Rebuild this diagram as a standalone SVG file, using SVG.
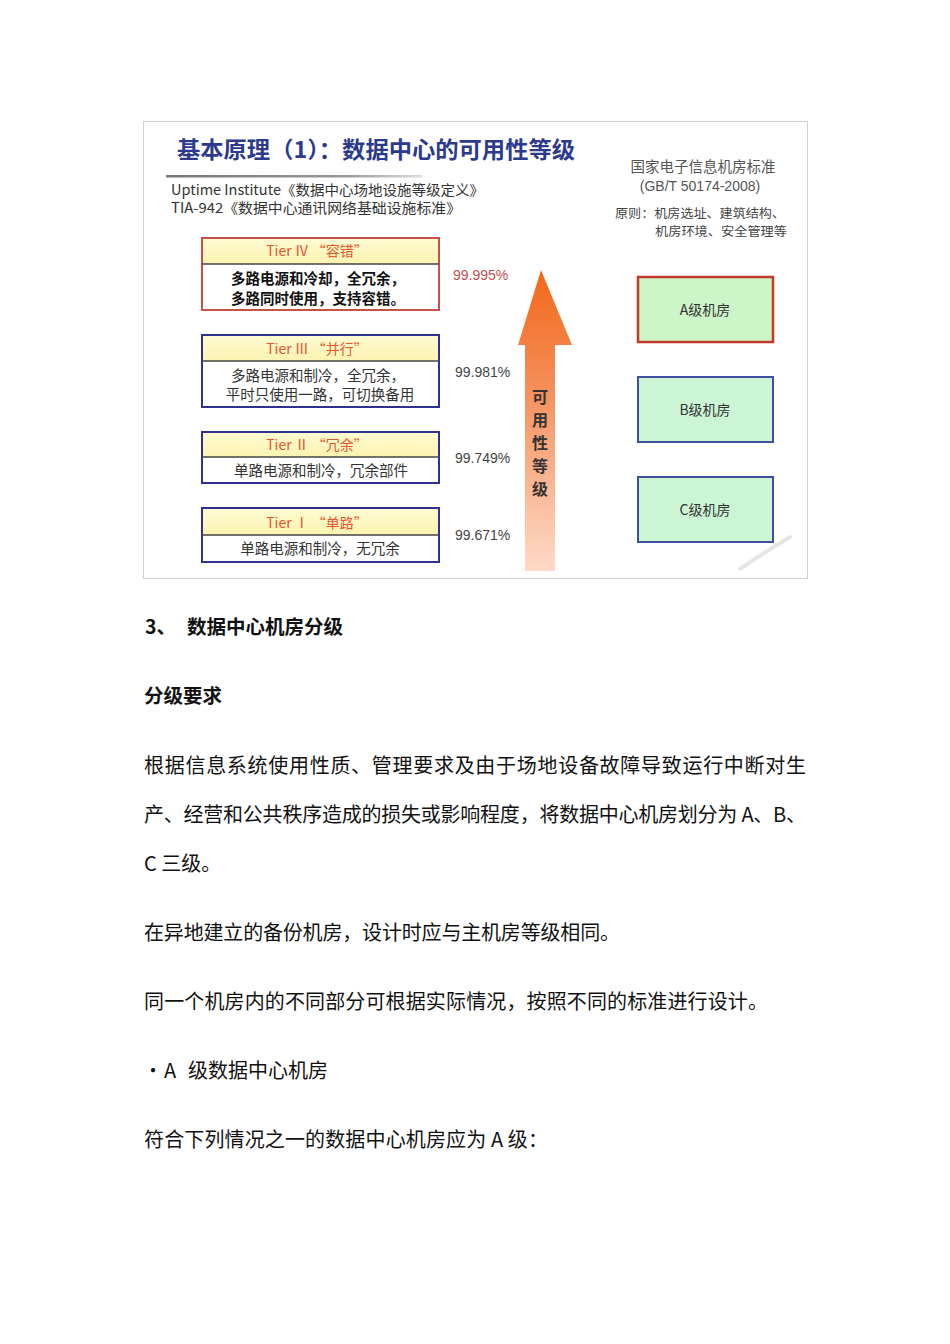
<svg xmlns="http://www.w3.org/2000/svg" width="950" height="1344" viewBox="0 0 950 1344">
<style>
text{font-family:"Noto Sans CJK SC","Noto Sans",sans-serif;}
.hd{font-size:14px;fill:#e8552f;text-anchor:middle;}
.bd{font-size:14.5px;fill:#333;text-anchor:middle;}
.bdb{font-size:14.5px;fill:#111;font-weight:bold;text-anchor:middle;}
.pct{font-size:14px;fill:#444;font-family:"Liberation Sans",Arial,sans-serif;}
.room{font-size:14px;fill:#333;text-anchor:middle;}
.txt{font-size:20px;fill:#111;}
.h{font-size:19.5px;fill:#111;font-weight:bold;}
.sep{stroke:#444;stroke-width:1.5;}
</style>
<defs>
<linearGradient id="arrowG" x1="0" y1="0" x2="0" y2="1">
<stop offset="0" stop-color="#f2671a"/>
<stop offset="0.35" stop-color="#f58a52"/>
<stop offset="1" stop-color="#fddac8"/>
</linearGradient>
<linearGradient id="lineG" x1="0" y1="0" x2="1" y2="0">
<stop offset="0" stop-color="#777"/>
<stop offset="0.7" stop-color="#999"/>
<stop offset="1" stop-color="#ddd"/>
</linearGradient>
<linearGradient id="hdrG" x1="0" y1="0" x2="0" y2="1">
<stop offset="0" stop-color="#fdfbd2"/>
<stop offset="1" stop-color="#fbf3b0"/>
</linearGradient>
</defs>
<rect width="950" height="1344" fill="#fff"/>
<g id="figure">
<rect x="143.5" y="121.5" width="664" height="457" fill="#fff" stroke="#d0d0d0" stroke-width="1"/>
<text x="177" y="158" font-size="22.5" font-weight="bold" fill="#2b3a8c" textLength="398" lengthAdjust="spacingAndGlyphs">基本原理（1）：数据中心的可用性等级</text>
<rect x="166" y="175" width="256" height="2.5" fill="url(#lineG)"/>
<text x="171" y="195" font-size="14" fill="#333" textLength="313" lengthAdjust="spacingAndGlyphs">Uptime Institute《数据中心场地设施等级定义》</text>
<text x="171" y="213" font-size="14" fill="#333" textLength="290" lengthAdjust="spacingAndGlyphs">TIA-942《数据中心通讯网络基础设施标准》</text>
<text x="703" y="172" font-size="14.5" fill="#555" text-anchor="middle">国家电子信息机房标准</text>
<text x="700" y="191" font-size="14" fill="#555" text-anchor="middle" style="font-family:'Liberation Sans',Arial,sans-serif">(GB/T 50174-2008)</text>
<text x="615" y="218" font-size="12.5" fill="#444" textLength="170" lengthAdjust="spacingAndGlyphs">原则：机房选址、建筑结构、</text>
<text x="655" y="236" font-size="12.5" fill="#444" textLength="132" lengthAdjust="spacingAndGlyphs">机房环境、安全管理等</text>
</g>
<g id="tier4">
<rect x="202" y="238" width="237" height="72" fill="#fff" stroke="#c8504a" stroke-width="2"/>
<rect x="203" y="239" width="235" height="25" fill="url(#hdrG)"/>
<line class="sep" x1="202" y1="264" x2="439" y2="264"/>
<text class="hd" x="317" y="256">Tier Ⅳ  “容错”</text>
<text class="bdb" x="318" y="284">多路电源和冷却，全冗余，</text>
<text class="bdb" x="318" y="304">多路同时使用，支持容错。</text>
<text class="pct" x="453" y="280" style="fill:#c0504d">99.995%</text>
</g>
<g id="tier3">
<rect x="202" y="335" width="237" height="72" fill="#fff" stroke="#2e3192" stroke-width="2"/>
<rect x="203" y="336" width="235" height="25" fill="url(#hdrG)"/>
<line class="sep" x1="202" y1="361" x2="439" y2="361"/>
<text class="hd" x="317" y="354">Tier Ⅲ  “并行”</text>
<text class="bd" x="318" y="381">多路电源和制冷，全冗余，</text>
<text class="bd" x="320" y="400">平时只使用一路，可切换备用</text>
<text class="pct" x="455" y="377">99.981%</text>
</g>
<g id="tier2">
<rect x="202" y="432" width="237" height="51" fill="#fff" stroke="#2e3192" stroke-width="2"/>
<rect x="203" y="433" width="235" height="24" fill="url(#hdrG)"/>
<line class="sep" x1="202" y1="457" x2="439" y2="457"/>
<text class="hd" x="317" y="450">Tier Ⅱ  “冗余”</text>
<text class="bd" x="321" y="476">单路电源和制冷，冗余部件</text>
<text class="pct" x="455" y="463">99.749%</text>
</g>
<g id="tier1">
<rect x="202" y="508" width="237" height="54" fill="#fff" stroke="#2e3192" stroke-width="2"/>
<rect x="203" y="509" width="235" height="26" fill="url(#hdrG)"/>
<line class="sep" x1="202" y1="535" x2="439" y2="535"/>
<text class="hd" x="317" y="528">Tier Ⅰ  “单路”</text>
<text class="bd" x="320" y="554">单路电源和制冷，无冗余</text>
<text class="pct" x="455" y="540">99.671%</text>
</g>
<g id="arrow">
<path d="M541 270 L572 345 L555 345 L555 571 L525 571 L525 345 L518 345 Z" fill="url(#arrowG)"/>
<g font-size="16" font-weight="bold" fill="#333" text-anchor="middle">
<text x="540" y="403">可</text>
<text x="540" y="426">用</text>
<text x="540" y="449">性</text>
<text x="540" y="472">等</text>
<text x="540" y="495">级</text>
</g>
</g>
<g id="roomA">
<rect x="638" y="277" width="135" height="65" fill="#ccf5c8" stroke="#c0392b" stroke-width="2.5"/>
<text class="room" x="705" y="315">A级机房</text>
</g>
<g id="roomB">
<rect x="638" y="377" width="135" height="65" fill="#ccf5d4" stroke="#3f4f9f" stroke-width="2"/>
<text class="room" x="705" y="415">B级机房</text>
</g>
<g id="roomC">
<rect x="638" y="477" width="135" height="65" fill="#ccf5d4" stroke="#3f4f9f" stroke-width="2"/>
<text class="room" x="705" y="515">C级机房</text>
</g>
<g id="deco">
<path d="M740 569 Q765 552 790 537" fill="none" stroke="#e6e6e6" stroke-width="4" stroke-linecap="round"/>
</g>
<g id="connectors"></g>
<g id="body">
<text class="h" x="145" y="634">3、</text>
<text class="h" x="187" y="634">数据中心机房分级</text>
<text class="h" x="144" y="703">分级要求</text>
<text class="txt" x="144" y="773" textLength="662" lengthAdjust="spacing">根据信息系统使用性质、管理要求及由于场地设备故障导致运行中断对生</text>
<text class="txt" x="144" y="822" textLength="662" lengthAdjust="spacing">产、经营和公共秩序造成的损失或影响程度，将数据中心机房划分为 A、B、</text>
<text class="txt" x="144" y="871">C 三级。</text>
<text class="txt" x="144" y="940" textLength="476" lengthAdjust="spacing">在异地建立的备份机房，设计时应与主机房等级相同。</text>
<text class="txt" x="144" y="1009" textLength="624" lengthAdjust="spacing">同一个机房内的不同部分可根据实际情况，按照不同的标准进行设计。</text>
<text class="txt" x="143" y="1078">•</text>
<text class="txt" x="164" y="1078">A</text>
<text class="txt" x="188" y="1078">级数据中心机房</text>
<text class="txt" x="144" y="1147" textLength="404" lengthAdjust="spacing">符合下列情况之一的数据中心机房应为 A 级：</text>
</g>
</svg>
